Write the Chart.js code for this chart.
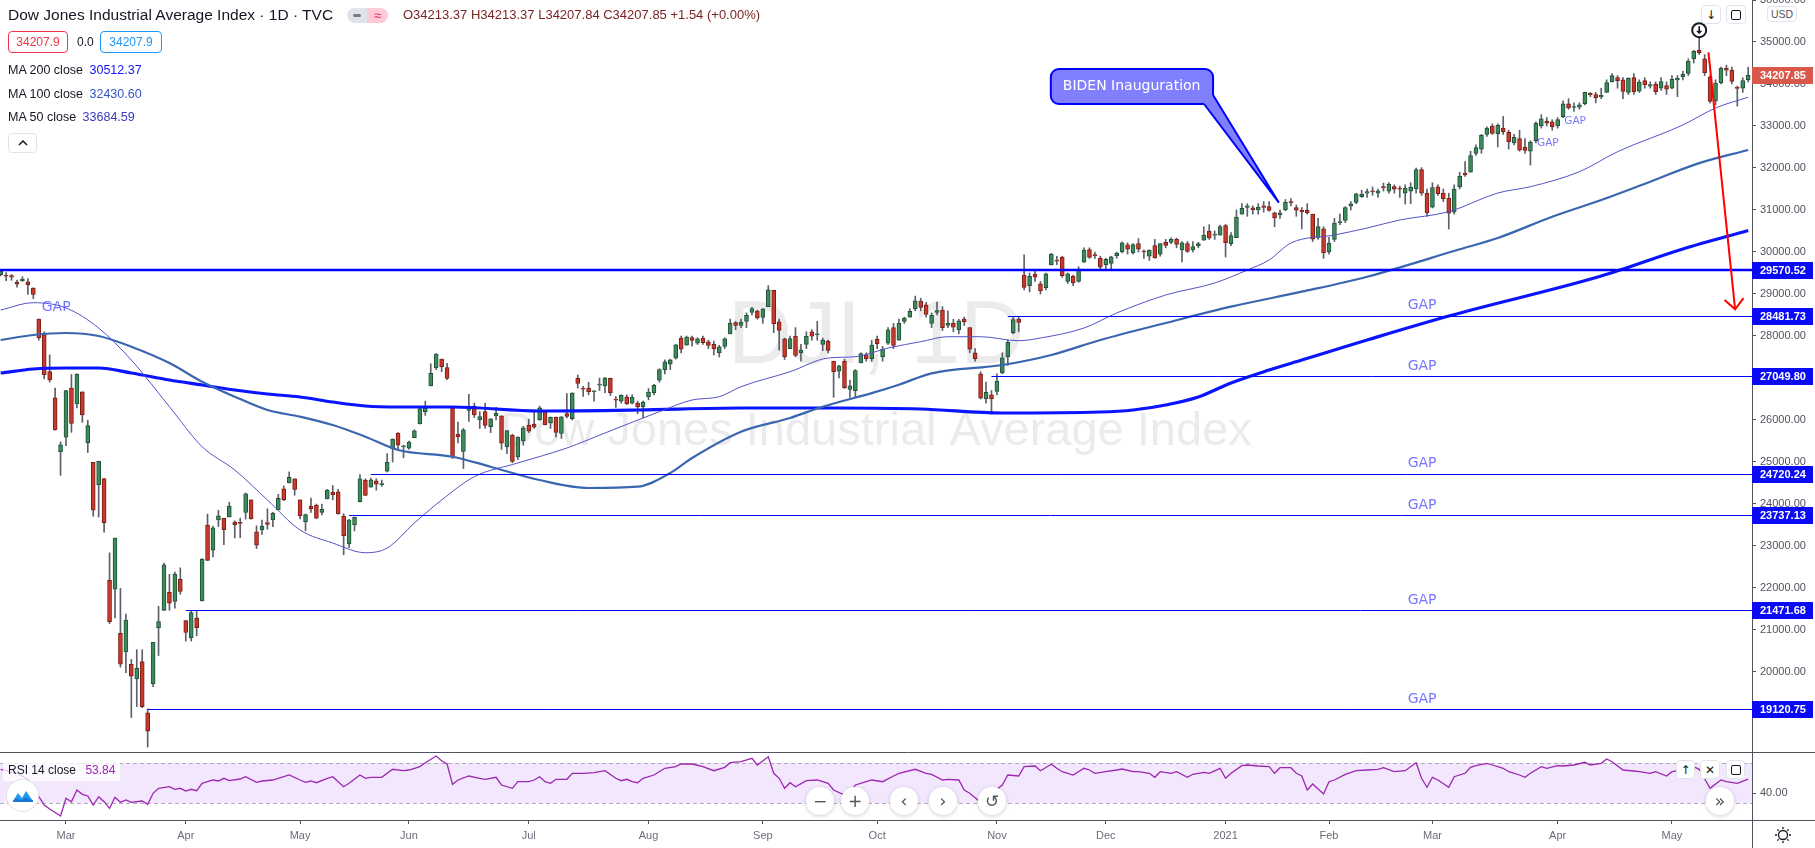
<!DOCTYPE html>
<html><head><meta charset="utf-8">
<script src="https://cdn.jsdelivr.net/npm/chart.js@4.4.1/dist/chart.umd.min.js"></script>
<style>
html,body{margin:0;padding:0;background:#fff;}
#wrap{position:relative;width:1815px;height:848px;overflow:hidden;background:#fff;font-family:"Liberation Sans",Arial,sans-serif;color:#131722;}
#cPrice{position:absolute;left:0;top:0;width:1815px;height:752px;}
#cRsi{position:absolute;left:0;top:752px;width:1815px;height:96px;}
.a{position:absolute;white-space:nowrap;}
.box{position:absolute;box-sizing:border-box;border-radius:4px;display:flex;align-items:center;justify-content:center;font-size:12px;}
.btn{position:absolute;box-sizing:border-box;border:1px solid #e0e3eb;border-radius:4px;background:#fff;display:flex;align-items:center;justify-content:center;color:#131722;font-family:"DejaVu Sans",sans-serif;font-size:12px;}
.circ{position:absolute;width:28px;height:28px;border-radius:50%;background:#fff;box-shadow:0 1px 4px rgba(0,0,0,0.2);display:flex;align-items:center;justify-content:center;color:#50535e;font-family:"DejaVu Sans",sans-serif;font-size:17px;}
.sq{width:10px;height:10px;border:1.5px solid #131722;border-radius:2px;box-sizing:border-box;}
</style></head>
<body><div id="wrap">
<canvas id="cPrice" width="1815" height="752"></canvas>
<canvas id="cRsi" width="1815" height="96"></canvas>

<div class="a" style="left:8px;top:6px;font-size:15.5px;line-height:18px;">Dow Jones Industrial Average Index · 1D · TVC</div>
<div class="a" style="left:347px;top:8px;width:41px;height:15px;border-radius:8px;overflow:hidden;display:flex;">
  <div style="width:20px;height:15px;background:#e0e3eb;display:flex;align-items:center;justify-content:center;"><div style="width:8px;height:3px;border-radius:2px;background:#787b86;"></div></div>
  <div style="width:21px;height:15px;background:#fccbd6;color:#e91e63;font-size:13px;line-height:15px;text-align:center;">≈</div>
</div>
<div class="a" style="left:403px;top:7px;font-size:13px;line-height:16px;color:#7b2424;">O34213.37 H34213.37 L34207.84 C34207.85 +1.54 (+0.00%)</div>
<div class="box" style="left:8px;top:31px;width:60px;height:22px;border:1px solid #f23645;color:#f23645;">34207.9</div>
<div class="a" style="left:77px;top:35px;font-size:12px;line-height:14px;color:#131722;">0.0</div>
<div class="box" style="left:100px;top:31px;width:62px;height:22px;border:1px solid #2196f3;color:#2196f3;">34207.9</div>
<div class="a" style="left:8px;top:63px;font-size:12.5px;line-height:15px;">MA 200 close <span style="margin-left:3px;color:#1414ff;">30512.37</span></div>
<div class="a" style="left:8px;top:87px;font-size:12.5px;line-height:15px;">MA 100 close <span style="margin-left:3px;color:#3457c4;">32430.60</span></div>
<div class="a" style="left:8px;top:110px;font-size:12.5px;line-height:15px;">MA 50 close <span style="margin-left:3px;color:#3b3bb8;">33684.59</span></div>
<div class="btn" style="left:8px;top:133px;width:29px;height:20px;"><svg width="10" height="6"><path d="M1 5 L5 1 L9 5" fill="none" stroke="#131722" stroke-width="1.5"/></svg></div>

<div class="btn" style="left:1701px;top:5px;width:20px;height:19px;">↓</div>
<div class="btn" style="left:1726px;top:5px;width:20px;height:19px;"><div class="sq"></div></div>
<div class="btn" style="left:1767px;top:6px;width:30px;height:16px;font-family:'Liberation Sans',Arial,sans-serif;font-size:10.5px;color:#50535e;">USD</div>

<div class="a" style="left:3px;top:763px;width:117px;height:18px;background:rgba(255,255,255,0.75);"></div>
<div class="a" style="left:8px;top:761px;font-size:12px;line-height:18px;color:#131722;">RSI 14 close <span style="margin-left:6px;color:#9c27b0;">53.84</span></div>
<div class="circ" style="left:7px;top:780px;width:31px;height:31px;box-shadow:0 0 0 1px #e0e3eb;">
  <svg width="22" height="14" viewBox="0 0 22 14"><path d="M1 12 L6 4 L10 9 L14 2 L21 12 Z" fill="#2196f3"/><path d="M1 12 Q3 9 6 10 Q9 12 11 10 Q14 7 17 10 Q19 12 21 11 L21 13 L1 13 Z" fill="#1976d2"/></svg>
</div>
<div class="btn" style="left:1676px;top:760px;width:19px;height:19px;">↑</div>
<div class="btn" style="left:1700px;top:760px;width:20px;height:19px;">✕</div>
<div class="btn" style="left:1726px;top:760px;width:19px;height:19px;"><div class="sq"></div></div>
<div class="circ" style="left:806px;top:787px;">−</div>
<div class="circ" style="left:841px;top:787px;">+</div>
<div class="circ" style="left:890px;top:787px;">‹</div>
<div class="circ" style="left:929px;top:787px;">›</div>
<div class="circ" style="left:978px;top:787px;">↺</div>
<div class="circ" style="left:1706px;top:787px;">»</div>

<script>
// ---------- data ----------
const openP = [
29460,29435,29440,29282,29320,29290,29140,28400,28030,27150,
26530,25240,25590,26762,26383,26671,25457,24992,24453,24604,
22184,21973,20918,20477,20180,19836,20250,19028,19722,21050,
21469,21898,21678,22208,21227,20819,21285,21693,23500,22900,
23620,23660,23690,23570,23540,23800,24100,23340,23380,23560,
23620,23860,24360,24500,24600,24100,23580,23950,23976,23800,
24120,24280,24290,23714,23050,23500,24050,24571,24400,24550,
24460,24780,25310,25690,25360,25330,25580,25905,26200,26810,
27238,27450,27250,26282,25660,25250,26230,26330,26000,26200,
25840,26100,26100,25360,25640,25120,25500,25880,25900,26000,
26200,25930,26070,25680,26150,26030,26990,26750,26760,26670,
26830,26810,26990,26500,26450,26550,26400,26400,26320,26550,
26650,26950,27200,27330,27470,27950,27780,27960,27830,27950,
27860,27800,27600,27750,28050,28320,28250,28350,28560,28600,
28440,28700,29090,28340,27930,27700,28000,27600,27800,28100,
28030,27800,27880,27400,27160,27400,26730,26700,27360,27550,
27460,27920,27500,27830,28200,27900,28350,28450,28650,28830,
28740,28300,28560,28620,28250,28300,28150,28400,28200,27600,
27100,26500,26600,26680,27120,27500,28080,28400,29450,29200,
29470,29240,29150,29690,29800,29880,29300,29420,29300,29760,
30060,29940,29850,29700,29730,29910,30000,30170,29980,30200,
30010,29900,30150,29950,30230,30230,30300,30050,30200,30050,
30150,30280,30500,30400,30400,30628,30200,30340,30900,31060,
31050,31000,31100,31080,30930,30880,31000,31200,31060,31000,
31000,30900,30350,30550,30000,30300,30700,30750,31100,31180,
31320,31400,31450,31400,31560,31450,31560,31500,31400,31450,
31500,31960,31400,31070,31550,31400,31280,30950,31550,31880,
31900,32350,32450,32800,33000,32820,32950,32850,32600,32700,
32500,32400,32650,33000,33120,33100,33000,33220,33530,33440,
33450,33530,33780,33750,33690,33800,34050,34150,34100,33800,
34150,33830,34080,33950,33990,33900,33960,33900,34100,34170,
34250,34600,34810,34600,34170,33600,34030,34380,34330,33900,
33900,34100];
const highP = [
29568,29510,29463,29333,29410,29368,29150,28404,28100,27550,
26760,25480,26706,27084,27102,26671,25994,24992,25018,24604,
22837,23190,21989,21377,20300,20531,20529,19121,20705,21565,
22596,22327,22378,22480,21227,21451,21447,22702,23760,23473,
23848,23660,24043,23600,23662,24264,24100,23480,23619,23887,
23800,24230,24430,24765,24600,24100,23760,24140,24000,24000,
24350,24440,24350,23770,23630,23690,24700,24600,24620,24600,
24570,25200,25550,25700,25400,25500,25770,26300,26450,27340,
27580,27450,27350,26282,25952,25800,26611,26400,26200,26400,
26030,26300,26100,25750,25660,25600,25850,26020,26200,26330,
26200,26070,26070,26080,26630,26650,27070,26800,26900,26700,
27000,27010,27000,26560,26600,26600,26600,26450,26450,26750,
26850,27220,27430,27450,27800,28000,28000,28000,27960,28000,
27900,27880,27780,27960,28400,28350,28400,28550,28680,28620,
28650,29200,29090,28400,27950,28000,28200,27800,28100,28150,
28350,27950,27900,27400,27300,27450,26950,27200,27600,27600,
27900,28000,27750,28200,28300,28400,28450,28650,28950,28900,
28800,28550,28810,28700,28600,28400,28400,28450,28200,27700,
27150,26900,26700,27100,27600,27900,28450,28450,29933,29500,
29550,29300,29500,29970,29900,29900,29500,29450,29650,30100,
30100,30000,29900,29850,29900,30000,30240,30220,30200,30320,
30050,30050,30300,30200,30300,30340,30330,30250,30250,30250,
30230,30600,30650,30500,30640,30660,30460,31000,31150,31150,
31100,31150,31200,31200,30950,31000,31250,31270,31120,31060,
31150,30900,30800,30600,30350,30800,30900,31080,31200,31400,
31470,31500,31550,31500,31640,31650,31600,31570,31600,31650,
32000,32010,31500,31650,31600,31500,31400,31600,31900,32150,
32400,32550,32800,32980,33050,33050,33227,32900,32800,32900,
32700,32650,33100,33270,33200,33150,33200,33600,33650,33550,
33550,33810,33800,33800,33900,34100,34250,34200,34150,34150,
34250,34100,34150,34050,34050,34150,34050,34200,34200,34300,
34600,34800,35091,34700,34200,34100,34400,34450,34400,33950,
34150,34400];
const lowP = [
29430,29315,29328,29160,29300,28990,28890,27900,26980,26900,
25760,24681,25391,25707,26286,25943,25226,23707,23690,23328,
21154,21285,20117,19984,18917,19177,19150,18214,19650,20392,
21469,21469,21522,21850,20735,20736,20863,21693,22654,22740,
23464,23030,23690,23190,23200,23640,23640,22940,23276,23400,
23460,23860,24080,24500,24210,23645,23360,23800,23648,23740,
24120,24100,23760,22790,22960,23360,24050,24200,24400,24330,
24420,24760,25000,25300,25100,25300,25580,25905,26110,26810,
27200,27150,26960,25082,25452,24843,25969,26060,25800,25800,
25700,26000,25300,25200,24980,25060,25400,25700,25800,25990,
25880,25800,25600,25560,26050,26000,26760,26560,26600,26450,
26700,26650,26580,26300,26400,26370,26380,26150,26050,26480,
26600,26900,27100,27200,27450,27600,27780,27760,27800,27800,
27700,27550,27500,27700,28050,28150,28200,28200,28500,28400,
28300,28700,28080,27664,27440,27700,27500,27400,27700,27900,
27900,27650,27600,26540,27000,26750,26540,26550,27360,27400,
27400,27700,27400,27800,27700,27900,28300,28450,28600,28600,
28450,28200,28500,28130,28200,28100,28050,28250,27600,27400,
26500,26400,26144,26600,27100,27300,28050,28100,29100,29050,
29300,29000,29100,29690,29700,29400,29250,29200,29280,29750,
29850,29850,29600,29600,29600,29850,29980,29950,29950,30000,
29850,29800,29850,29900,30100,30200,30100,29766,29990,30000,
30100,30280,30300,30300,30400,29881,30150,30340,30900,30850,
30900,30900,30950,30970,30600,30800,30980,31100,30850,30550,
30900,30250,30300,29850,29950,30250,30650,30700,31000,31150,
31300,31300,31350,31300,31450,31400,31400,31300,31143,31150,
31400,31350,30850,31050,31350,31200,30547,30900,31500,31800,
31900,32300,32350,32750,32800,32500,32800,32450,32550,32400,
32350,32070,32600,32950,33000,32900,32950,33200,33400,33350,
33400,33500,33700,33550,33650,33800,34050,33900,33650,33750,
33750,33800,33900,33900,33750,33850,33750,33880,33700,34100,
34200,34500,34700,34200,33550,33500,34000,34200,34000,33474,
33800,34050];
const closeP = [
29551,29423,29398,29232,29348,29219,28992,27961,27081,26957,
25766,25409,26703,25917,27091,26121,25865,23851,25018,23553,
21200,23186,20189,21237,19899,20087,19174,18592,20704,21200,
22552,21637,22327,21917,20943,21413,21053,22680,22654,23434,
23719,23390,23950,23505,23538,24242,23650,23019,23475,23515,
23775,24134,24101,24634,24346,23724,23749,23883,23664,23875,
24331,24221,23765,23248,23625,23685,24597,24207,24576,24474,
24465,24995,25548,25401,25383,25475,25742,26270,26282,27111,
27572,27272,26990,25128,25606,25763,26290,26120,26080,25871,
26025,26156,25446,25746,25016,25596,25813,25735,25827,26287,
25891,26067,25706,26075,26086,26643,26871,26735,26672,26681,
26841,27006,26653,26470,26585,26380,26540,26314,26428,26664,
26828,27202,27387,27433,27791,27687,27977,27897,27931,27844,
27778,27692,27740,27930,28308,28249,28332,28492,28654,28430,
28646,29100,28292,28133,27500,27940,27535,27666,27993,27995,
28032,27902,27657,27148,27288,26763,26815,27174,27584,27452,
27782,27817,27683,28149,27773,28303,28426,28587,28838,28680,
28515,28494,28607,28196,28309,28211,28364,28336,27686,27463,
26520,26660,26502,26925,27481,27848,28390,28323,29158,29421,
29398,29080,29480,29950,29784,29438,29483,29263,29591,30046,
29872,29910,29639,29823,29883,29969,30218,30070,30174,30068,
29999,30046,29861,30199,30155,30304,30179,30216,30015,30129,
30200,30403,30335,30409,30606,30223,30392,30829,31041,31098,
31009,31068,31060,30991,30814,30930,31188,31176,30997,30960,
30937,30303,30603,29983,30212,30688,30724,31056,31148,31386,
31375,31438,31431,31458,31523,31613,31494,31494,31522,31537,
31962,31402,30932,31535,31391,31270,30924,31496,31802,31833,
32297,32485,32779,32953,32826,33015,32862,32628,32732,32423,
32420,32619,33072,33171,33066,32982,33153,33527,33430,33446,
33503,33801,33746,33677,33730,34036,34200,34078,33821,34137,
33815,34043,33981,33985,33820,34060,33875,34113,34133,34230,
34548,34778,34743,34270,33587,34021,34382,34327,34061,33896,
34084,34207.85];

// moving averages: [bar index, value]
const ma200 = [[0,27119],[6,27214],[12,27238],[18,27238],[24,27119],[31,26952],[37,26833],[43,26714],[49,26619],[55,26548],[61,26428],[67,26333],[73,26309],[83,26309],[99,26214],[117,26238],[136,26286],[154,26286],[169,26262],[184,26167],[202,26190],[208,26238],[214,26357],[220,26548],[226,26881],[233,27190],[239,27428],[245,27667],[251,27905],[266,28476],[294,29428],[309,30071],[321,30512]];
const ma100 = [[0,27905],[6,28024],[12,28071],[18,28000],[24,27745],[31,27357],[37,26912],[43,26555],[49,26238],[55,26079],[61,25881],[67,25602],[73,25286],[83,25126],[90,24888],[99,24571],[108,24381],[117,24412],[123,24738],[127,25095],[136,25721],[145,26048],[151,26317],[160,26640],[165,26840],[171,27110],[184,27309],[193,27548],[202,27905],[214,28310],[226,28698],[239,29055],[251,29412],[268,30064],[275,30333],[285,30840],[294,31238],[303,31674],[312,32115],[321,32430]];
const ma50 = [[0,28619],[6,28793],[12,28667],[18,28190],[24,27428],[31,26317],[37,25364],[43,24810],[49,24095],[55,23381],[61,23071],[67,22840],[71,22952],[76,23548],[81,24095],[87,24650],[95,24976],[104,25333],[111,25690],[121,26198],[127,26476],[132,26555],[136,26793],[145,27150],[152,27476],[157,27507],[163,27714],[169,27864],[174,27983],[180,27983],[187,27888],[191,27952],[199,28190],[205,28548],[214,28976],[223,29262],[229,29571],[233,29810],[237,30214],[245,30405],[251,30571],[257,30762],[266,30960],[275,31405],[281,31555],[290,31912],[297,32388],[309,33024],[315,33429],[321,33685]];

// RSI 14: [bar index, value]
const rsi14 = [[0,63.7],[3,59.7],[5,53.7],[8,28],[9,24],[11,17],[12,34.7],[13,31.3],[14,43],[15,38.7],[16,37],[17,28],[18,36.3],[19,31.3],[20,24.7],[21,35.7],[22,30.7],[23,33],[24,30.7],[26,32],[27,28.7],[28,39.7],[29,44.7],[31,46.3],[32,43.7],[33,44.7],[34,42],[35,43.7],[36,42.3],[37,49.7],[39,53],[40,52],[41,54.7],[42,52.3],[44,54],[45,56.3],[47,50.7],[48,52],[50,53],[51,54.7],[53,58],[55,53],[56,50.7],[57,52],[58,50.3],[60,54.7],[61,56.3],[63,46.3],[64,49.7],[66,58],[67,54.7],[68,55.7],[70,55.7],[72,63.7],[74,62.3],[75,63],[77,66.3],[78,70.3],[80,77],[81,72.3],[82,69],[83,48.7],[84,53],[86,57],[88,54.7],[89,53.7],[91,55.7],[92,48],[94,44.7],[95,51.3],[97,51.3],[98,53],[99,56.3],[100,51.3],[101,49.7],[102,53.7],[104,53.7],[105,59.7],[107,59.7],[109,60.3],[111,62.3],[113,54.7],[114,52.3],[115,53.7],[116,51.3],[117,50.3],[118,54.7],[120,58],[122,64.7],[124,66.3],[125,69],[127,69],[129,66.3],[131,62.3],[133,65.7],[134,70.3],[136,71.3],[138,74.7],[139,68],[141,76.3],[142,59.7],[143,54.7],[144,44.7],[145,50.3],[146,46.3],[148,52.3],[150,53],[152,49.7],[153,43],[155,38],[156,39.7],[157,48],[159,51.3],[160,53],[162,51.3],[164,57],[165,59.7],[168,63.7],[170,59.7],[171,58.7],[173,53],[174,53.7],[176,53],[177,43],[178,39.7],[180,30.7],[181,33],[182,39.7],[184,48],[185,58],[187,57],[188,66.3],[190,67],[191,62.3],[193,68.7],[194,64.7],[195,61.3],[197,58],[199,64.7],[200,63],[201,59.7],[203,61.3],[205,63],[206,64],[208,61.3],[209,61.3],[211,59.7],[212,55.7],[213,61.3],[215,59.7],[216,61.3],[218,55.7],[219,58.7],[221,60.7],[222,59.7],[224,64.7],[225,54.7],[226,59.7],[228,67.3],[229,68],[231,67],[233,66.3],[234,59.7],[235,65.3],[237,65.3],[238,59.7],[239,57],[240,43],[241,49],[243,39],[244,51.3],[245,53],[247,58.7],[249,62.3],[251,63],[253,63.7],[254,65.3],[256,61.3],[258,62.3],[260,70.3],[261,54.7],[262,45.7],[263,55.7],[264,53],[266,45.7],[267,56.3],[269,59.7],[270,65.7],[271,67.3],[273,69.7],[274,68],[276,64.7],[277,61.3],[279,58],[280,55.7],[281,59.7],[283,66.3],[284,64.7],[286,67.3],[287,67],[289,68],[291,70.7],[292,68],[294,69.7],[295,74],[296,71.3],[298,63],[300,62],[301,61.3],[303,59.7],[304,61.3],[306,57],[307,61.3],[309,63],[311,66.3],[312,63.7],[314,44.7],[316,53],[317,51.3],[319,49.7],[321,53.84]];
const rsiBands = [70, 30];

// time axis: month labels and the bar index of each month's first session
const monthLabels = ['Mar','Apr','May','Jun','Jul','Aug','Sep','Oct','Nov','Dec','2021','Feb','Mar','Apr','May'];
const monthIdx    = [12,34,55,75,97,119,140,161,183,203,225,244,263,286,307];
const priceTicks = [19000,20000,21000,22000,23000,24000,25000,26000,27000,28000,29000,30000,31000,32000,33000,34000,35000,36000];
const rsiTicks = [40];

// drawn gap levels: price and first bar of each line (-1 = from left edge)
const gapLevels = [29570.52, 28481.73, 27049.80, 24720.24, 23737.13, 21471.68, 19120.75];
const gapFrom   = [-1, 185, 182, 68, 64, 34, 27];
const gapNotes  = [[10.2, 28690]];            // extra "GAP" text (bar, price)
const gapNotesSmall = [[284.2, 32595], [289.2, 33119]];
const gapLabelBar = 261.1;
const biden = {text:'BIDEN Inauguration', k0:192.9, v0:34357, k1:222.7, v1:33524, tipK:234.8, tipV:31174};
const redArrow = {k0:313.7, v0:34755, k1:318.6, v1:28636};
const markerBar = 312;
const watermark = ['DJI, 1D', 'Dow Jones Industrial Average Index'];

// ---------- styling ----------
const UI = '"Liberation Sans", Arial, sans-serif';
const DRAW = '"DejaVu Sans", Verdana, sans-serif';
const UP_FILL='#3d8a5c', UP_LINE='#1f5235', DN_FILL='#c8392c', DN_LINE='#7a1e17', WICK='#5d606b';
const AXIS='#50535e';
const XMIN=-0.123, XMAX=321.7;
const isUp = i => closeP[i] >= openP[i];

const priceExtras = {
  id:'priceExtras',
  beforeDatasetsDraw(chart){
    const {ctx, chartArea:a} = chart;
    ctx.save();
    ctx.fillStyle='rgba(19,23,34,0.085)';
    ctx.textAlign='center'; ctx.textBaseline='alphabetic';
    const cx=(a.left+a.right)/2;
    ctx.font='89px '+UI; ctx.fillText(watermark[0], cx, 363);
    ctx.font='47px '+UI; ctx.fillText(watermark[1], cx, 445);
    ctx.restore();
  },
  afterDatasetsDraw(chart){
    const {ctx, chartArea:a, scales:{x:xs, y:ys}} = chart;
    ctx.save();
    ctx.beginPath(); ctx.rect(a.left,a.top,a.right-a.left,a.bottom-a.top); ctx.clip();
    // gap lines
    gapLevels.forEach((lv,i)=>{
      const y=ys.getPixelForValue(lv);
      const x0 = gapFrom[i]<0 ? a.left : xs.getPixelForValue(gapFrom[i]);
      ctx.strokeStyle='#0000ff';
      ctx.lineWidth = i===0 ? 2.5 : 1;
      const yy = i===0 ? y : Math.round(y)+0.5;
      ctx.beginPath(); ctx.moveTo(x0,yy); ctx.lineTo(a.right,yy); ctx.stroke();
    });
    // GAP texts
    ctx.fillStyle='rgba(80,80,255,0.78)';
    ctx.textAlign='center'; ctx.textBaseline='middle';
    ctx.font='14px '+DRAW;
    gapLevels.forEach((lv,i)=>{ if(i===0) return;
      ctx.fillText('GAP', xs.getPixelForValue(gapLabelBar), ys.getPixelForValue(lv)-10); });
    gapNotes.forEach(([k,v])=>ctx.fillText('GAP', xs.getPixelForValue(k), ys.getPixelForValue(v)));
    ctx.font='10.5px '+DRAW;
    gapNotesSmall.forEach(([k,v])=>ctx.fillText('GAP', xs.getPixelForValue(k), ys.getPixelForValue(v)));
    // callout
    const bx0=xs.getPixelForValue(biden.k0), by0=ys.getPixelForValue(biden.v0);
    const bx1=xs.getPixelForValue(biden.k1), by1=ys.getPixelForValue(biden.v1);
    const tx=xs.getPixelForValue(biden.tipK), ty=ys.getPixelForValue(biden.tipV);
    ctx.fillStyle='#8080ff'; ctx.strokeStyle='#0000ff'; ctx.lineWidth=2;
    ctx.beginPath(); ctx.roundRect(bx0,by0,bx1-bx0,by1-by0,8); ctx.fill(); ctx.stroke();
    ctx.beginPath();
    ctx.moveTo(bx1-9,by1-3); ctx.lineTo(bx1-9,by1); ctx.lineTo(tx,ty); ctx.lineTo(bx1,by1-9); ctx.lineTo(bx1-3,by1-9); ctx.closePath();
    ctx.fill();
    ctx.beginPath(); ctx.moveTo(bx1-9,by1); ctx.lineTo(tx,ty); ctx.lineTo(bx1,by1-9); ctx.stroke();
    ctx.fillStyle='#ffffff'; ctx.textAlign='left'; ctx.textBaseline='middle'; ctx.font='14px '+DRAW;
    ctx.fillText(biden.text, bx0+12, (by0+by1)/2);
    // red arrow
    const ax0=xs.getPixelForValue(redArrow.k0), ay0=ys.getPixelForValue(redArrow.v0);
    const ax1=xs.getPixelForValue(redArrow.k1), ay1=ys.getPixelForValue(redArrow.v1);
    ctx.strokeStyle='#ff0000'; ctx.lineWidth=2;
    ctx.beginPath(); ctx.moveTo(ax0,ay0); ctx.lineTo(ax1,ay1); ctx.stroke();
    const ang=Math.atan2(ay1-ay0, ax1-ax0), L=14;
    ctx.beginPath();
    ctx.moveTo(ax1-L*Math.cos(ang-0.75), ay1-L*Math.sin(ang-0.75));
    ctx.lineTo(ax1,ay1);
    ctx.lineTo(ax1-L*Math.cos(ang+0.75), ay1-L*Math.sin(ang+0.75));
    ctx.stroke();
    // marker above the top candle
    const mx=xs.getPixelForValue(markerBar), my=ys.getPixelForValue(highP[markerBar])-8;
    ctx.fillStyle='#fff'; ctx.strokeStyle='#131722'; ctx.lineWidth=2;
    ctx.beginPath(); ctx.arc(mx,my,7,0,Math.PI*2); ctx.fill(); ctx.stroke();
    ctx.lineWidth=1.6;
    ctx.beginPath(); ctx.moveTo(mx,my-4); ctx.lineTo(mx,my+1.5); ctx.stroke();
    ctx.fillStyle='#131722';
    ctx.beginPath(); ctx.moveTo(mx-3,my+0.5); ctx.lineTo(mx+3,my+0.5); ctx.lineTo(mx,my+4); ctx.closePath(); ctx.fill();
    ctx.restore();
  },
  afterDraw(chart){
    const {ctx, chartArea:a, scales:{y:ys}} = chart;
    ctx.save();
    ctx.textAlign='left'; ctx.textBaseline='middle';
    gapLevels.forEach(lv=>{
      const y=ys.getPixelForValue(lv);
      ctx.fillStyle='#0a0af5'; ctx.fillRect(a.right, Math.round(y)-8, 61, 17);
      ctx.fillStyle='#fff'; ctx.font='bold 11px '+UI;
      ctx.fillText(lv.toFixed(2), a.right+8, Math.round(y)+0.5);
    });
    const last=closeP[closeP.length-1], yl=ys.getPixelForValue(last);
    ctx.fillStyle='#da584a'; ctx.fillRect(a.right, Math.round(yl)-8, 61, 17);
    ctx.fillStyle='#fff'; ctx.font='bold 11px '+UI;
    ctx.fillText(last.toFixed(2), a.right+8, Math.round(yl)+0.5);
    ctx.restore();
  }
};

const rsiExtras = {
  id:'rsiExtras',
  beforeDatasetsDraw(chart){
    const {ctx, chartArea:a, scales:{y}} = chart;
    const y70=y.getPixelForValue(rsiBands[0]), y30=y.getPixelForValue(rsiBands[1]);
    ctx.save();
    ctx.fillStyle='#f3e7fd'; ctx.fillRect(a.left, y70, a.right-a.left, y30-y70);
    ctx.strokeStyle='#b3a6bf'; ctx.lineWidth=1; ctx.setLineDash([4,3]);
    [y70,y30].forEach(v=>{ ctx.beginPath(); ctx.moveTo(a.left,Math.round(v)+0.5); ctx.lineTo(a.right,Math.round(v)+0.5); ctx.stroke(); });
    ctx.restore();
  },
  afterDraw(chart){
    const {ctx, chartArea:a, width, height} = chart;
    ctx.save();
    ctx.strokeStyle=AXIS; ctx.lineWidth=1;
    ctx.beginPath(); ctx.moveTo(0,0.5); ctx.lineTo(width,0.5); ctx.stroke();
    ctx.beginPath(); ctx.moveTo(a.right+0.5,a.bottom); ctx.lineTo(a.right+0.5,height); ctx.stroke();
    ctx.beginPath(); ctx.moveTo(a.right,a.bottom+0.5); ctx.lineTo(width,a.bottom+0.5); ctx.stroke();
    // settings icon
    const gx=1783, gy=a.bottom+15;
    ctx.strokeStyle='#131722'; ctx.lineWidth=1.3;
    ctx.beginPath(); ctx.arc(gx,gy,4.5,0,Math.PI*2); ctx.stroke();
    for(let i=0;i<8;i++){ const t=i*Math.PI/4;
      ctx.beginPath(); ctx.moveTo(gx+6*Math.cos(t),gy+6*Math.sin(t)); ctx.lineTo(gx+8*Math.cos(t),gy+8*Math.sin(t)); ctx.stroke(); }
    ctx.restore();
  }
};

// ---------- price chart ----------
new Chart(document.getElementById('cPrice'), {
  type:'bar',
  data:{datasets:[
    {type:'line', data:ma50.map(([k,v])=>({x:k,y:v})), borderColor:'#5252c8', borderWidth:1, pointRadius:0, cubicInterpolationMode:'monotone', order:1},
    {type:'line', data:ma100.map(([k,v])=>({x:k,y:v})), borderColor:'#3a66b0', borderWidth:2.2, pointRadius:0, cubicInterpolationMode:'monotone', order:1},
    {type:'line', data:ma200.map(([k,v])=>({x:k,y:v})), borderColor:'#0a14ff', borderWidth:3.2, pointRadius:0, cubicInterpolationMode:'monotone', order:1},
    {type:'bar', data:openP.map((o,i)=>({x:i, y:[o, closeP[i]]})), grouped:false, barThickness:4, minBarLength:1,
      backgroundColor:c=>isUp(c.dataIndex)?UP_FILL:DN_FILL, borderColor:c=>isUp(c.dataIndex)?UP_LINE:DN_LINE,
      borderWidth:1, borderSkipped:false, order:2},
    {type:'bar', data:highP.map((h,i)=>({x:i, y:[lowP[i], h]})), grouped:false, barThickness:1,
      backgroundColor:WICK, borderWidth:0, order:3}
  ]},
  options:{
    responsive:false, animation:false, events:[],
    layout:{padding:0},
    plugins:{legend:{display:false}, tooltip:{enabled:false}},
    scales:{
      x:{type:'linear', min:XMIN, max:XMAX, offset:false, display:false, grid:{display:false}},
      y:{type:'linear', position:'right', min:18095.2, max:36000, beginAtZero:false,
        afterBuildTicks:s=>{ s.ticks = priceTicks.map(v=>({value:v})); },
        afterFit:s=>{ s.width=63; s.paddingTop=0; s.paddingBottom=0; },
        ticks:{callback:v=>Number(v).toFixed(2), color:AXIS, font:{family:UI,size:11}, padding:4, crossAlign:'near'},
        grid:{drawOnChartArea:false, tickLength:4, color:AXIS},
        border:{color:AXIS}}
    }
  },
  plugins:[priceExtras]
});

// ---------- RSI chart ----------
new Chart(document.getElementById('cRsi'), {
  type:'line',
  data:{datasets:[
    {data:rsi14.map(([k,v])=>({x:k,y:v})), borderColor:'#9c27b0', borderWidth:1.3, pointRadius:0, tension:0}
  ]},
  options:{
    responsive:false, animation:false, events:[],
    layout:{padding:0},
    plugins:{legend:{display:false}, tooltip:{enabled:false}},
    scales:{
      x:{type:'linear', min:XMIN, max:XMAX, offset:false, position:'bottom',
        afterBuildTicks:s=>{ s.ticks = monthIdx.map(v=>({value:v})); },
        afterFit:s=>{ s.height=28; s.paddingLeft=0; s.paddingRight=0; },
        ticks:{autoSkip:false, maxRotation:0, callback:(v,i)=>monthLabels[i], color:'#6a6d78', font:{family:UI,size:11}, padding:5},
        grid:{drawOnChartArea:false, tickLength:4, color:AXIS},
        border:{color:AXIS}},
      y:{type:'linear', position:'right', min:13, max:81,
        afterBuildTicks:s=>{ s.ticks = rsiTicks.map(v=>({value:v})); },
        afterFit:s=>{ s.width=63; s.paddingTop=0; s.paddingBottom=0; },
        ticks:{callback:v=>Number(v).toFixed(2), color:AXIS, font:{family:UI,size:11}, padding:4, crossAlign:'near'},
        grid:{drawOnChartArea:false, tickLength:4, color:AXIS},
        border:{color:AXIS}}
    }
  },
  plugins:[rsiExtras]
});
</script>
</div></body></html>
